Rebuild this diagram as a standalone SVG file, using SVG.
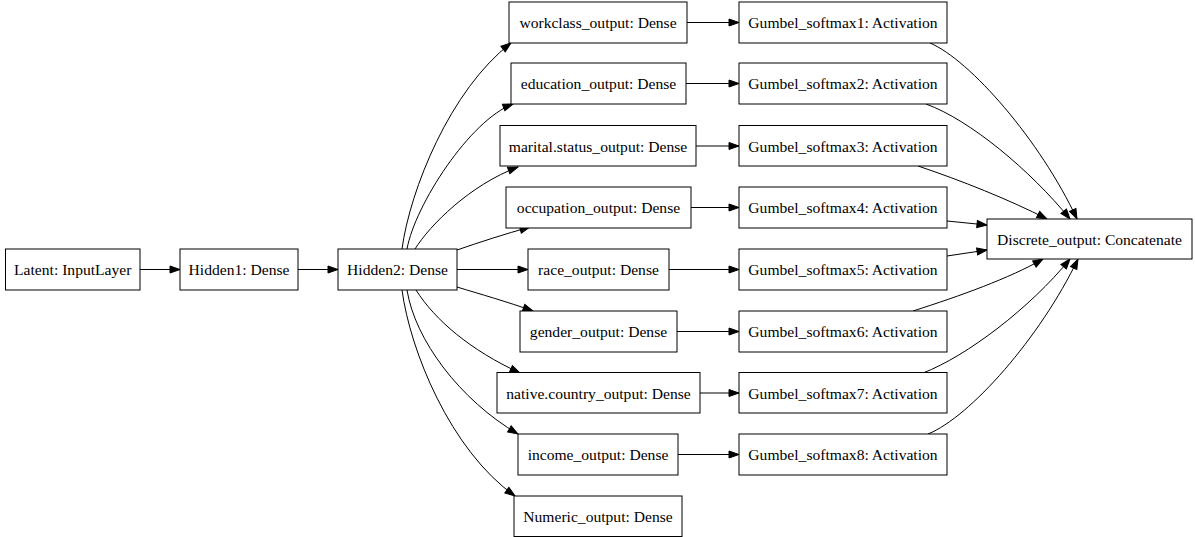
<svg xmlns="http://www.w3.org/2000/svg" width="1195" height="537" viewBox="0 0 1195 537">
<style>
.n rect{fill:#fff;stroke:#000;stroke-width:1}
.n text{font-family:"Liberation Serif","Times New Roman",serif;font-size:15.6px;text-anchor:middle;fill:#000}
#edges path{fill:none;stroke:#000;stroke-width:1;marker-end:url(#ah)}
</style>
<defs>
<marker id="ah" markerUnits="userSpaceOnUse" markerWidth="10" markerHeight="7" refX="10" refY="3.5" orient="auto" overflow="visible">
<path d="M0,0 L10,3.5 L0,7 z" fill="#000" stroke="#000" stroke-width="1"/>
</marker>
</defs>
<rect width="1195" height="537" fill="#fff"/>
<g id="edges">
<path d="M140,269.5 L180,269.5"/>
<path d="M298,269.5 L338,269.5"/>
<path d="M402,249 C410,190 450,90 511,43"/>
<path d="M407,249 C415,205 470,120 513,104"/>
<path d="M415,249 C430,225 470,185 518,167"/>
<path d="M457,250 C480,242 505,234 530,227"/>
<path d="M457,269.5 L528,269.5"/>
<path d="M457,287 C480,294 508,302 533,311"/>
<path d="M416,290 C435,320 470,350 520,373"/>
<path d="M407,290 C415,340 460,400 518,434"/>
<path d="M402,290 C410,350 450,450 515,496"/>
<path d="M687,22.5 L739,22.5"/>
<path d="M686,83.5 L739,83.5"/>
<path d="M696,146 L739,146"/>
<path d="M691,207.5 L739,207.5"/>
<path d="M669,269.5 L739,269.5"/>
<path d="M677,331.5 L739,331.5"/>
<path d="M700,393 L739,393"/>
<path d="M678,454.5 L739,454.5"/>
<path d="M930,43 C970,60 1040,140 1077,219"/>
<path d="M926,104 C970,120 1030,170 1070,219"/>
<path d="M918,166 C960,180 1010,200 1047,219"/>
<path d="M947,221 L987,225"/>
<path d="M947,256 L987,250"/>
<path d="M913,311 C960,296 1010,278 1043,259"/>
<path d="M923,373 C967,356 1030,308 1070,259"/>
<path d="M928,434 C970,417 1040,338 1078,259"/>
</g>
<g id="latent" class="n"><rect x="5.5" y="249" width="134.5" height="41"/><text x="72.75" y="275">Latent: InputLayer</text></g>
<g id="hidden1" class="n"><rect x="180" y="249" width="118" height="41"/><text x="239" y="275">Hidden1: Dense</text></g>
<g id="hidden2" class="n"><rect x="338" y="249" width="119" height="41"/><text x="397.5" y="275">Hidden2: Dense</text></g>
<g id="workclass" class="n"><rect x="509" y="2" width="178" height="41"/><text x="598" y="28">workclass_output: Dense</text></g>
<g id="education" class="n"><rect x="511" y="63" width="175" height="41"/><text x="598.5" y="89">education_output: Dense</text></g>
<g id="marital" class="n"><rect x="500" y="125.5" width="196" height="40.5"/><text x="598" y="151.5">marital.status_output: Dense</text></g>
<g id="occupation" class="n"><rect x="506" y="187" width="185" height="41"/><text x="598.5" y="213">occupation_output: Dense</text></g>
<g id="race" class="n"><rect x="528" y="249" width="141" height="41"/><text x="598.5" y="275">race_output: Dense</text></g>
<g id="gender" class="n"><rect x="520" y="311" width="157" height="41"/><text x="598.5" y="337">gender_output: Dense</text></g>
<g id="native" class="n"><rect x="497" y="372.5" width="203" height="40.5"/><text x="598.5" y="398.5">native.country_output: Dense</text></g>
<g id="income" class="n"><rect x="518" y="434" width="160" height="41"/><text x="598" y="460">income_output: Dense</text></g>
<g id="numeric" class="n"><rect x="514" y="496" width="168" height="40.5"/><text x="598" y="522">Numeric_output: Dense</text></g>
<g id="g1" class="n"><rect x="739" y="2" width="208" height="41"/><text x="843" y="28">Gumbel_softmax1: Activation</text></g>
<g id="g2" class="n"><rect x="739" y="63" width="208" height="41"/><text x="843" y="89">Gumbel_softmax2: Activation</text></g>
<g id="g3" class="n"><rect x="739" y="125.5" width="208" height="40.5"/><text x="843" y="151.5">Gumbel_softmax3: Activation</text></g>
<g id="g4" class="n"><rect x="739" y="187" width="208" height="41"/><text x="843" y="213">Gumbel_softmax4: Activation</text></g>
<g id="g5" class="n"><rect x="739" y="249" width="208" height="41"/><text x="843" y="275">Gumbel_softmax5: Activation</text></g>
<g id="g6" class="n"><rect x="739" y="311" width="208" height="41"/><text x="843" y="337">Gumbel_softmax6: Activation</text></g>
<g id="g7" class="n"><rect x="739" y="372.5" width="208" height="40.5"/><text x="843" y="398.5">Gumbel_softmax7: Activation</text></g>
<g id="g8" class="n"><rect x="739" y="434" width="208" height="41"/><text x="843" y="460">Gumbel_softmax8: Activation</text></g>
<g id="discrete" class="n"><rect x="987" y="219" width="205" height="40"/><text x="1089.5" y="244.5">Discrete_output: Concatenate</text></g>
</svg>
